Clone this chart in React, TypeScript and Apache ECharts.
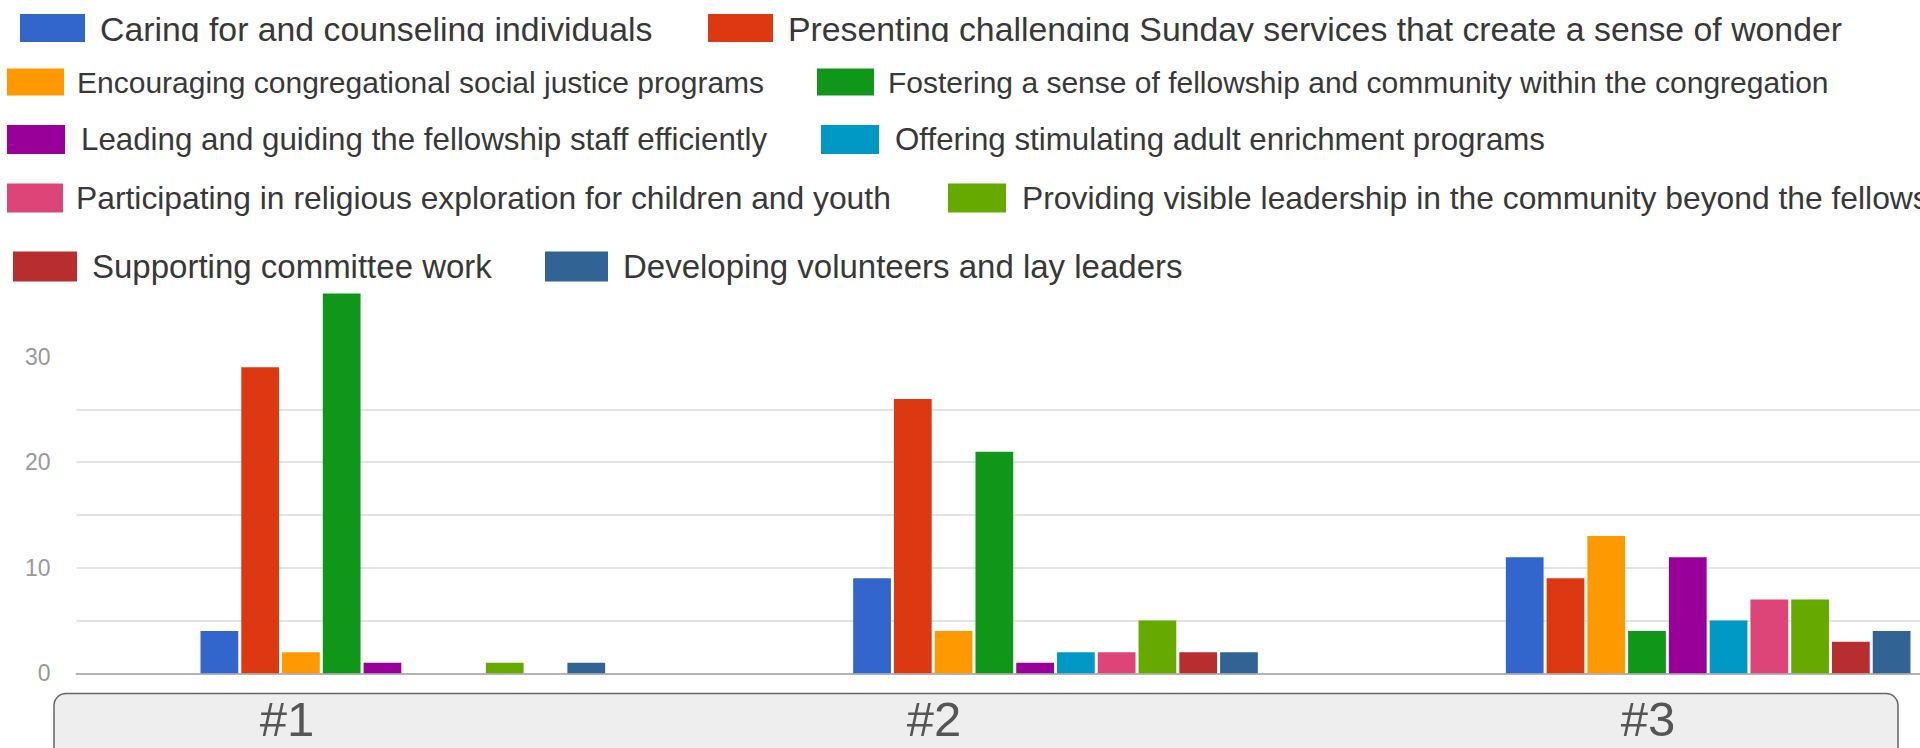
import React, { useEffect, useRef } from 'react';
import * as echarts from 'echarts';

// ---- data ----
const categories = ['#1', '#2', '#3'];
const seriesNames = [
  'Caring for and counseling individuals',
  'Presenting challenging Sunday services that create a sense of wonder',
  'Encouraging congregational social justice programs',
  'Fostering a sense of fellowship and community within the congregation',
  'Leading and guiding the fellowship staff efficiently',
  'Offering stimulating adult enrichment programs',
  'Participating in religious exploration for children and youth',
  'Providing visible leadership in the community beyond the fellowship',
  'Supporting committee work',
  'Developing volunteers and lay leaders',
];
const caring = [4, 9, 11];
const presenting = [29, 26, 9];
const encouraging = [2, 4, 13];
const fostering = [36, 21, 4];
const leading = [1, 1, 11];
const offering = [0, 2, 5];
const participating = [0, 2, 7];
const providing = [1, 5, 7];
const supporting = [0, 2, 3];
const developing = [1, 2, 4];
const seriesValues = [caring, presenting, encouraging, fostering, leading, offering, participating, providing, supporting, developing];
const yTickLabels = [0, 10, 20, 30];

// ---- styles ----
const colors = ['#3366cc', '#dc3912', '#ff9900', '#109618', '#990099', '#0099c6', '#dd4477', '#66aa00', '#b82e2e', '#316395'];
const FONT = '"Liberation Sans", Arial, sans-serif';

const legendLayout = [
  { left: 20, top: 12, w: 65, h: 30, fs: 33.8, pad: 10 },
  { left: 708, top: 12, w: 65, h: 30, fs: 33.8, pad: 10 },
  { left: 7, top: 67, w: 57, h: 27, fs: 30, pad: 8 },
  { left: 817, top: 67, w: 57, h: 27, fs: 30, pad: 9 },
  { left: 7, top: 124, w: 58, h: 29, fs: 31.3, pad: 11 },
  { left: 821, top: 124, w: 58, h: 29, fs: 31.3, pad: 11 },
  { left: 7, top: 182, w: 56, h: 29, fs: 31.8, pad: 8 },
  { left: 948, top: 182, w: 58, h: 29, fs: 31.8, pad: 11 },
  { left: 13, top: 250, w: 64, h: 30, fs: 33, pad: 10 },
  { left: 545, top: 250, w: 63, h: 30, fs: 33, pad: 10 },
];
const boxLabelX = [287, 934, 1648];

export default function App() {
  const ref = useRef<HTMLDivElement>(null);
  useEffect(() => {
    document.body.style.margin = '0';
    document.body.style.overflow = 'hidden';
    document.documentElement.style.overflow = 'hidden';
    const chart = echarts.init(ref.current as HTMLDivElement, null, { renderer: 'svg' });
    const transparent = 'rgba(0,0,0,0)';
    const option: any = {
      animation: false,
      backgroundColor: '#ffffff',
      color: colors,
      legend: legendLayout.map((l, i) => ({
        data: [seriesNames[i]],
        left: l.left,
        top: l.top,
        padding: 0,
        itemWidth: l.w,
        itemHeight: l.h,
        icon: 'rect',
        selectedMode: false,
        textStyle: {
          fontFamily: FONT,
          fontSize: l.fs,
          color: '#383838',
          lineHeight: l.h,
          padding: [0, 0, 0, l.pad],
        },
      })),
      grid: { left: 76.5, top: 293.4, width: 1958, height: 379.9, containLabel: false },
      xAxis: {
        type: 'category',
        data: categories,
        axisLabel: { show: false },
        axisTick: { show: false },
        axisLine: { show: true, lineStyle: { color: '#b4b4b4', width: 2 } },
        splitLine: { show: false },
      },
      yAxis: {
        type: 'value',
        min: 0,
        max: 36,
        interval: 5,
        axisLine: { show: false },
        axisTick: { show: false },
        axisLabel: {
          margin: 26,
          fontFamily: FONT,
          fontSize: 23,
          color: '#999999',
          formatter: (v: number) => (yTickLabels.indexOf(v) >= 0 ? String(v) : ''),
        },
        splitLine: {
          show: true,
          lineStyle: {
            width: 2,
            color: ['#c8c8c8', '#e3e3e3', '#e3e3e3', '#e3e3e3', '#e3e3e3', '#e3e3e3', transparent, transparent, transparent, transparent],
          },
        },
      },
      series: seriesValues.map((vals, i) => ({
        name: seriesNames[i],
        type: 'bar',
        data: vals,
        barCategoryGap: '38%',
        barGap: '8%',
        itemStyle: { color: colors[i] },
      })),
      graphic: [
        {
          type: 'rect',
          z: 100,
          shape: { x: 0, y: 42, width: 2040, height: 12 },
          style: { fill: '#ffffff' },
        },
        {
          type: 'rect',
          z: 50,
          shape: { x: 54, y: 693.5, width: 1844, height: 90, r: 12 },
          style: { fill: '#eeeeee', stroke: '#666666', lineWidth: 1.5 },
        },
        ...categories.map((c, i) => ({
          type: 'text',
          z: 60,
          x: boxLabelX[i],
          y: 719,
          style: {
            text: c,
            fontFamily: FONT,
            fontSize: 49,
            fill: '#555555',
            align: 'center',
            verticalAlign: 'middle',
          },
        })),
      ],
    };
    chart.setOption(option);
    return () => chart.dispose();
  }, []);
  return (
    <div
      ref={ref}
      style={{ position: 'absolute', left: 0, top: 0, width: 2040, height: 748, background: '#fff' }}
    />
  );
}
